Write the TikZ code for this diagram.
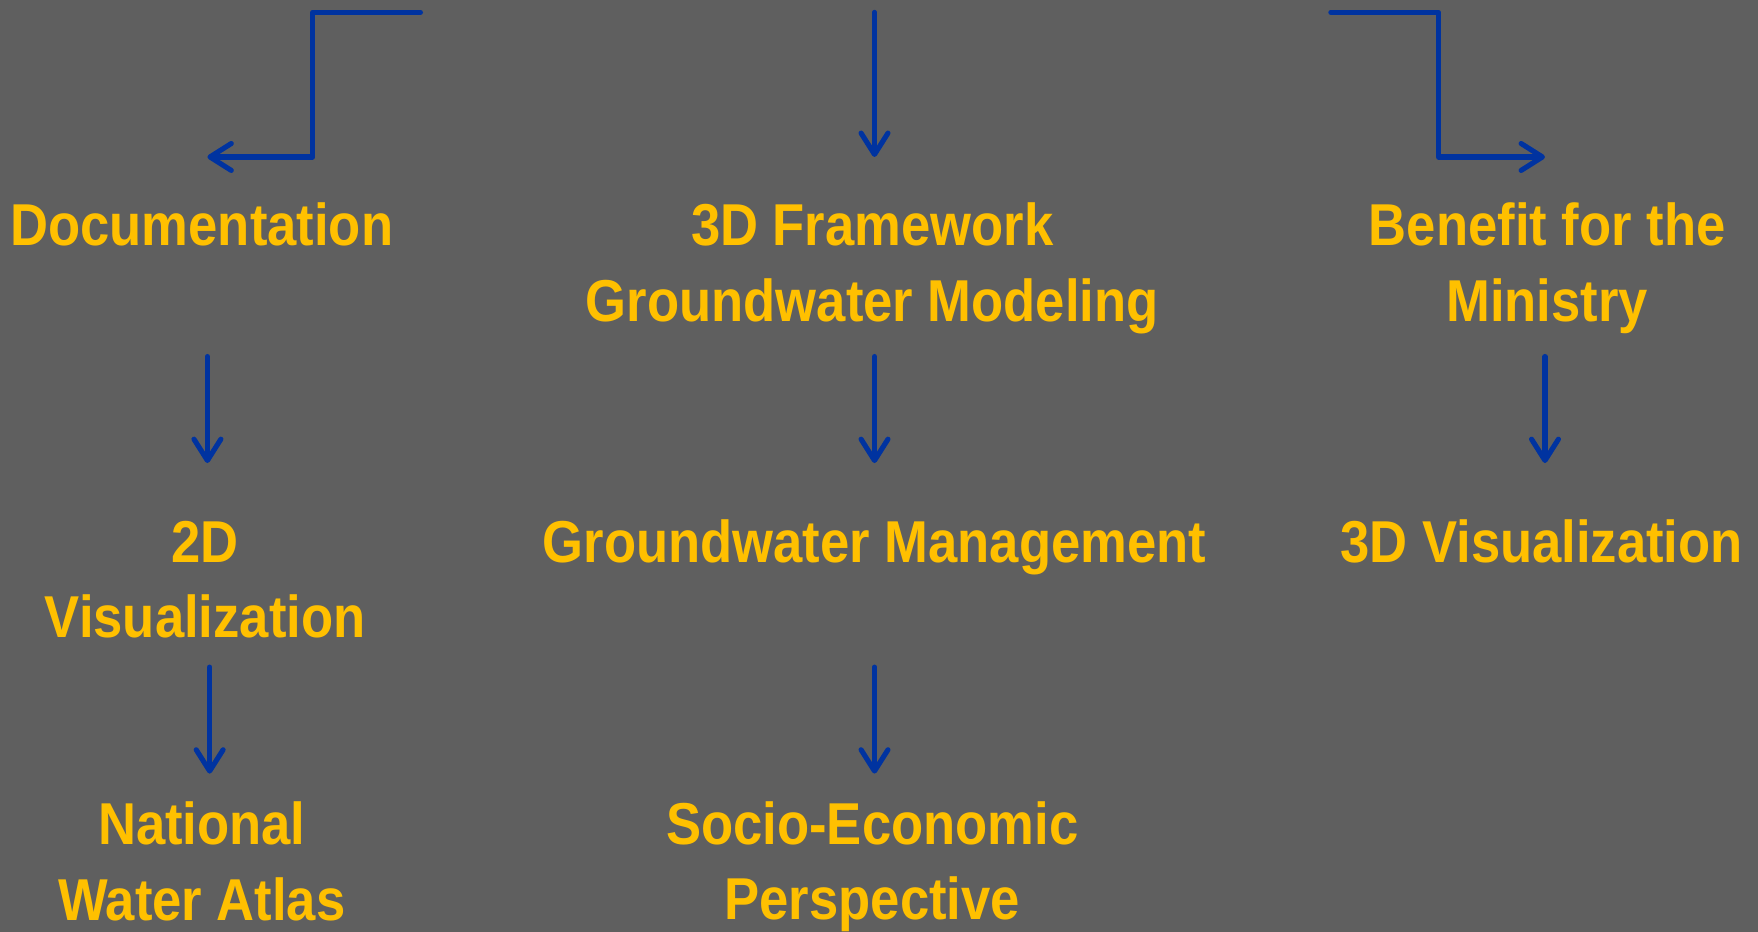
\documentclass[tikz,border=0pt]{standalone}
\usepackage{fontspec}
\setmainfont[FakeStretch=0.89]{Liberation Sans}
\usetikzlibrary{arrows.meta}
\definecolor{fond}{HTML}{5F5F5F}
\definecolor{fleche}{HTML}{0033A0}
\definecolor{titre}{HTML}{FFC000}
\tikzset{
    lbl/.style={text=titre, font=\fontsize{30}{38.5}\selectfont\bfseries, align=center},
    flow/.style={draw=fleche, line width=2.6pt, line cap=round, line join=round,
        -{Straight Barb[length=3.8mm, width=4.8mm, round]}}
}
\begin{document}
\begin{tikzpicture}[x=0.02cm, y=-0.02cm]
    % Fond
    \fill[fond] (0,0) rectangle (1568,831);
    \useasboundingbox (0,0) rectangle (1568,831);
    % Colonne gauche
    \node[lbl] (doc) at (180,200) {Documentation};
    \node[lbl] (vis2d) at (183,517) {2D\\Visualization};
    \node[lbl] (atlas) at (180,768) {National\\Water Atlas};
    % Colonne centrale
    \node[lbl] (cadre) at (778,239) {3D Framework\\Groundwater Modeling};
    \node[lbl] (gestion) at (780,488) {Groundwater Management};
    \node[lbl] (socio) at (778,773) {Socio-Economic\\Perspective};
    % Colonne droite
    \node[lbl] (benef) at (1380,239) {Benefit for the\\Ministry};
    \node[lbl] (vis3d) at (1375,483) {3D Visualization};
    % Entrees du haut
    \coordinate (hautG) at (375,11);
    \coordinate (pointeG) at (185,140);
    \coordinate (hautM) at (780,11);
    \coordinate (pointeM) at (780,140);
    \coordinate (hautD) at (1187,11);
    \coordinate (pointeD) at (1378,140);
    \draw[flow] (hautG) -- ++(-96,0) |- (pointeG);
    \draw[flow] (hautM) -- (pointeM);
    \draw[flow] (hautD) -- ++(96,0) |- (pointeD);
    % Fleches verticales
    \foreach \nom/\x/\ya/\yb in {g1/185/318/413, g2/187/595/690,
                                 m1/780/318/413, m2/780/595/690,
                                 d1/1378/318/413} {
        \coordinate (\nom a) at (\x,\ya);
        \coordinate (\nom b) at (\x,\yb);
        \draw[flow] (\nom a) -- (\nom b);
    }
\end{tikzpicture}
\end{document}
